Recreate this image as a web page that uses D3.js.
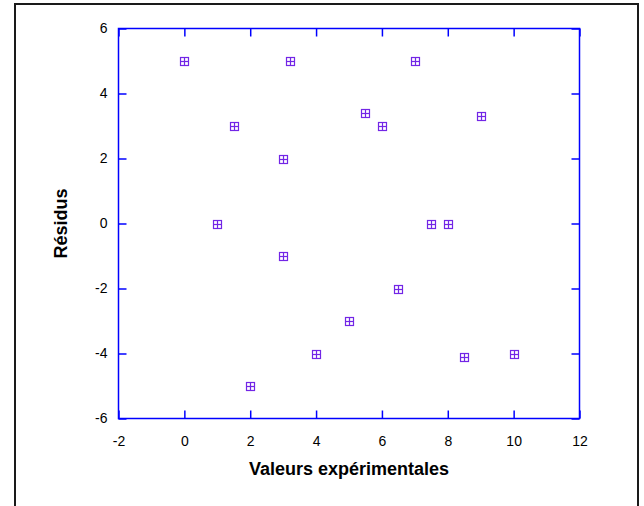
<!DOCTYPE html>
<html><head><meta charset="utf-8">
<script src="https://cdn.jsdelivr.net/npm/d3@7"></script>
<style>
body{margin:0;background:#fff;}
svg{display:block;font-family:"Liberation Sans",Arial,sans-serif;}
</style></head>
<body>
<svg id="chart" width="644" height="506"></svg>
<script>
const xValues = [0, 1, 1.5, 2, 3, 3, 3.2, 4, 5, 5.5, 6, 6.5, 7, 7.5, 8, 8.5, 9, 10];
const yValues = [5, 0, 3, -5, 2, -1, 5, -4, -3, 3.4, 3, -2, 5, 0, 0, -4.1, 3.3, -4];
const xTicks = [-2, 0, 2, 4, 6, 8, 10, 12];
const yTicks = [-6, -4, -2, 0, 2, 4, 6];
const xTitle = "Valeurs expérimentales";
const yTitle = "Résidus";

const svg = d3.select("#chart");
const L = 118.5, R = 579.5, T = 28.5, B = 418.5;
const x = d3.scaleLinear().domain([-2, 12]).range([L, R]);
const y = d3.scaleLinear().domain([-6, 6]).range([B, T]);
const blue = "#0000ff";
const col = "#7326e6";
const fmt = d => String(d);

// outer frame
svg.append("rect").attr("x", 15).attr("y", 4).attr("width", 623).attr("height", 520)
  .attr("fill", "none").attr("stroke", "#1a1a1a").attr("stroke-width", 2);

function styleAxis(g, hideText) {
  g.select(".domain").remove();
  g.selectAll("line").attr("stroke", blue).attr("stroke-width", 1.5);
  g.selectAll("text").attr("fill", "#000").style("font-size", "14px")
    .style("font-family", '"Liberation Sans", Arial, sans-serif');
  if (hideText) g.selectAll("text").remove();
}

svg.append("g").attr("transform", `translate(0,${B})`)
  .call(d3.axisBottom(x).tickValues(xTicks).tickSize(-8).tickPadding(18).tickFormat(fmt))
  .call(g => styleAxis(g, false));
svg.append("g").attr("transform", `translate(0,${T})`)
  .call(d3.axisTop(x).tickValues(xTicks).tickSize(-8))
  .call(g => styleAxis(g, true));
svg.append("g").attr("transform", `translate(${L},0)`)
  .call(d3.axisLeft(y).tickValues(yTicks).tickSize(-8).tickPadding(11).tickFormat(fmt))
  .call(g => styleAxis(g, false));
svg.append("g").attr("transform", `translate(${R},0)`)
  .call(d3.axisRight(y).tickValues(yTicks).tickSize(-8))
  .call(g => styleAxis(g, true));

// plot border
svg.append("rect").attr("x", L).attr("y", T).attr("width", R - L).attr("height", B - T)
  .attr("fill", "none").attr("stroke", blue).attr("stroke-width", 1.5);

// markers
const data = xValues.map((v, i) => ({x: v, y: yValues[i]}));
const s = 4;
const m = svg.append("g").attr("fill", "none").attr("stroke", col).attr("stroke-width", 1.2);
data.forEach(d => {
  const cx = Math.round(x(d.x)) + 0.5, cy = Math.round(y(d.y)) + 0.5;
  m.append("rect").attr("x", cx - s).attr("y", cy - s).attr("width", 2 * s).attr("height", 2 * s);
  m.append("line").attr("x1", cx).attr("x2", cx).attr("y1", cy - s).attr("y2", cy + s);
  m.append("line").attr("x1", cx - s).attr("x2", cx + s).attr("y1", cy).attr("y2", cy);
});

// titles
svg.append("text").attr("x", (L + R) / 2).attr("y", 475).attr("text-anchor", "middle")
  .style("font-size", "18px").style("font-weight", "bold").text(xTitle);
svg.append("text").attr("transform", `translate(67,${(T + B) / 2}) rotate(-90)`).attr("text-anchor", "middle")
  .style("font-size", "18px").style("font-weight", "bold").text(yTitle);
</script>
</body></html>
